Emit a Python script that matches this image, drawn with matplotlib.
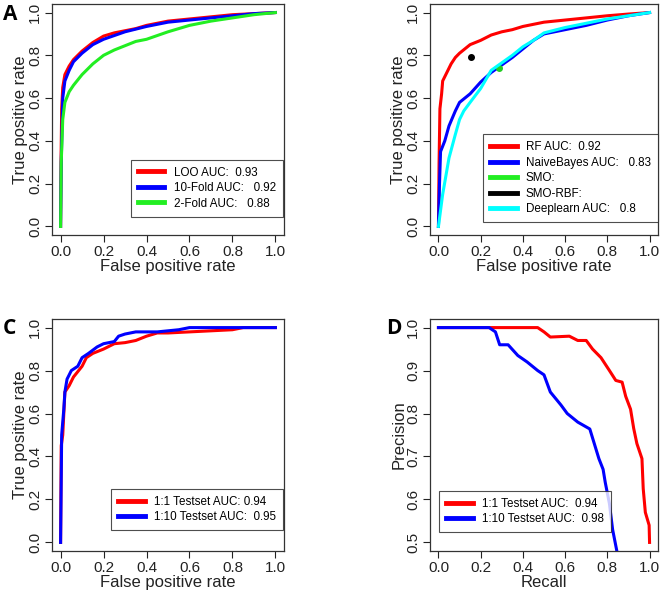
import matplotlib
matplotlib.use("Agg")
import matplotlib.pyplot as plt
import numpy as np

plt.rcParams['font.family'] = ['Liberation Sans', 'DejaVu Sans']

# panel A: cross validation ROC
a_loo_fpr = [0, 0.002, 0.005, 0.01, 0.02, 0.04, 0.06, 0.1, 0.15, 0.2, 0.25, 0.3, 0.35, 0.4, 0.5, 0.6, 0.7, 0.8, 0.9, 1.0]
a_loo_tpr = [0, 0.3, 0.55, 0.65, 0.71, 0.75, 0.78, 0.82, 0.86, 0.89, 0.905, 0.915, 0.925, 0.94, 0.96, 0.97, 0.98, 0.99, 0.995, 1.0]
a_10f_fpr = [0, 0.003, 0.01, 0.02, 0.04, 0.06, 0.1, 0.15, 0.2, 0.3, 0.4, 0.5, 0.6, 0.7, 0.8, 0.9, 1.0]
a_10f_tpr = [0, 0.3, 0.6, 0.68, 0.73, 0.77, 0.81, 0.85, 0.875, 0.91, 0.935, 0.955, 0.965, 0.975, 0.985, 0.995, 1.0]
a_2f_fpr = [0, 0.003, 0.01, 0.02, 0.04, 0.06, 0.1, 0.15, 0.2, 0.25, 0.3, 0.35, 0.4, 0.5, 0.6, 0.7, 0.8, 0.9, 1.0]
a_2f_tpr = [0, 0.3, 0.5, 0.58, 0.63, 0.66, 0.71, 0.76, 0.80, 0.825, 0.845, 0.865, 0.875, 0.91, 0.94, 0.96, 0.975, 0.99, 1.0]
a_labels = ["LOO AUC:  0.93", "10-Fold AUC:   0.92", "2-Fold AUC:   0.88"]

# panel B: classifiers
b_rf_fpr = [0, 0.003, 0.007, 0.015, 0.02, 0.04, 0.06, 0.08, 0.1, 0.15, 0.2, 0.25, 0.3, 0.35, 0.4, 0.5, 0.6, 0.7, 0.8, 0.9, 1.0]
b_rf_tpr = [0, 0.3, 0.55, 0.62, 0.68, 0.72, 0.76, 0.79, 0.81, 0.85, 0.87, 0.895, 0.91, 0.92, 0.935, 0.955, 0.965, 0.975, 0.985, 0.993, 1.0]
b_nb_fpr = [0, 0.005, 0.01, 0.03, 0.05, 0.08, 0.1, 0.15, 0.2, 0.25, 0.3, 0.35, 0.4, 0.45, 0.5, 0.6, 0.7, 0.8, 0.9, 1.0]
b_nb_tpr = [0, 0.2, 0.35, 0.4, 0.47, 0.54, 0.58, 0.62, 0.675, 0.72, 0.755, 0.79, 0.83, 0.87, 0.9, 0.92, 0.94, 0.965, 0.985, 1.0]
b_dl_fpr = [0, 0.02, 0.05, 0.08, 0.1, 0.12, 0.15, 0.2, 0.25, 0.3, 0.35, 0.4, 0.45, 0.5, 0.6, 0.7, 0.8, 0.9, 1.0]
b_dl_tpr = [0, 0.15, 0.32, 0.43, 0.5, 0.54, 0.58, 0.645, 0.73, 0.765, 0.8, 0.84, 0.87, 0.905, 0.93, 0.95, 0.97, 0.985, 1.0]
b_smo = (0.288, 0.74)
b_smo_rbf = (0.156, 0.794)
b_labels = ["RF AUC:  0.92", "NaiveBayes AUC:   0.83", "SMO:", "SMO-RBF:", "Deeplearn AUC:   0.8"]

# panel C: test sets ROC
c_11_fpr = [0, 0.003, 0.01, 0.015, 0.02, 0.04, 0.06, 0.1, 0.12, 0.15, 0.2, 0.25, 0.3, 0.35, 0.4, 0.45, 0.5, 0.6, 0.7, 0.8, 0.85, 1.0]
c_11_tpr = [0, 0.45, 0.5, 0.6, 0.7, 0.73, 0.77, 0.82, 0.86, 0.88, 0.9, 0.925, 0.93, 0.94, 0.96, 0.975, 0.975, 0.98, 0.985, 0.99, 1.0, 1.0]
c_110_fpr = [0, 0.005, 0.015, 0.02, 0.03, 0.05, 0.08, 0.1, 0.13, 0.17, 0.2, 0.25, 0.27, 0.3, 0.35, 0.45, 0.5, 0.55, 0.6, 1.0]
c_110_tpr = [0, 0.5, 0.62, 0.7, 0.76, 0.8, 0.82, 0.86, 0.88, 0.91, 0.925, 0.935, 0.96, 0.97, 0.98, 0.98, 0.985, 0.99, 1.0, 1.0]
c_labels = ["1:1 Testset AUC: 0.94", "1:10 Testset AUC:  0.95"]

# panel D: precision recall
d_11_rec = [0, 0.47, 0.5, 0.53, 0.62, 0.66, 0.70, 0.73, 0.77, 0.81, 0.84, 0.87, 0.887, 0.91, 0.925, 0.94, 0.964, 0.97, 0.98, 0.998, 1.0]
d_11_pre = [1.0, 1.0, 0.99, 0.978, 0.98, 0.97, 0.97, 0.95, 0.93, 0.90, 0.877, 0.873, 0.84, 0.81, 0.765, 0.73, 0.695, 0.625, 0.57, 0.54, 0.5]
d_110_rec = [0, 0.24, 0.27, 0.29, 0.33, 0.376, 0.42, 0.47, 0.5, 0.53, 0.58, 0.61, 0.66, 0.717, 0.76, 0.78, 0.79, 0.81, 0.825, 0.845]
d_110_pre = [1.0, 1.0, 0.99, 0.96, 0.96, 0.935, 0.92, 0.90, 0.89, 0.85, 0.82, 0.80, 0.78, 0.764, 0.695, 0.67, 0.64, 0.59, 0.53, 0.48]
d_labels = ["1:1 Testset AUC:  0.94", "1:10 Testset AUC:  0.98"]

ticks01 = [0.0, 0.2, 0.4, 0.6, 0.8, 1.0]


def r_axes(ax, xlabel, ylabel, yticks, ylim):
  ax.set_xlim(-0.04, 1.04)
  ax.set_ylim(*ylim)
  ax.set_xticks(ticks01)
  ax.set_xticklabels(["%.1f" % t for t in ticks01])
  ax.set_yticks(yticks)
  ax.set_yticklabels(["%.1f" % t for t in yticks], rotation=90, va="center")
  ax.tick_params(direction="out", length=5, width=0.8, labelsize=11, colors="#222222", pad=2)
  for s in ax.spines.values():
    s.set_linewidth(0.9)
    s.set_color("#333333")
  ax.set_xlabel(xlabel, fontsize=12, labelpad=0, color="#222222")
  ax.set_ylabel(ylabel, fontsize=12, labelpad=0, color="#222222")


def r_legend(ax, loc, anchor):
  leg = ax.legend(loc=loc, bbox_to_anchor=anchor, fontsize=8.4, frameon=True, fancybox=False,
                  handlelength=2.3, handletextpad=0.8, borderpad=0.6, labelspacing=0.3,
                  edgecolor="#222222", borderaxespad=0)
  leg.get_frame().set_linewidth(0.8)
  for h in leg.get_lines():
    h.set_linewidth(3.5)
  return leg


fig = plt.figure(figsize=(6.66, 5.92), dpi=100)
axA = fig.add_axes([52/666, 1-235/592, 232/666, 231/592])
axB = fig.add_axes([430/666, 1-235/592, 228/666, 231/592])
axC = fig.add_axes([52/666, 1-551/592, 232/666, 232/592])
axD = fig.add_axes([430/666, 1-551/592, 228/666, 232/592])

lw = 2.2
axA.plot(a_loo_fpr, a_loo_tpr, color="red", lw=lw, label=a_labels[0])
axA.plot(a_10f_fpr, a_10f_tpr, color="blue", lw=lw, label=a_labels[1])
axA.plot(a_2f_fpr, a_2f_tpr, color="#22ee22", lw=lw, label=a_labels[2])
r_axes(axA, "False positive rate", "True positive rate", ticks01, (-0.04, 1.04))
r_legend(axA, "lower right", (0.995, 0.08))

axB.plot(b_rf_fpr, b_rf_tpr, color="red", lw=lw, label=b_labels[0])
axB.plot(b_nb_fpr, b_nb_tpr, color="blue", lw=lw, label=b_labels[1])
axB.plot([b_smo[0]], [b_smo[1]], "o", color="#22cc22", ms=4, label=b_labels[2])
axB.plot([b_smo_rbf[0]], [b_smo_rbf[1]], "o", color="black", ms=4, label=b_labels[3])
axB.plot(b_dl_fpr, b_dl_tpr, color="cyan", lw=lw, label=b_labels[4])
r_axes(axB, "False positive rate", "True positive rate", ticks01, (-0.04, 1.04))
legB = r_legend(axB, "lower right", (1.0, 0.055))
for h, c in zip(legB.legend_handles, ["red", "blue", "#22ee22", "black", "cyan"]):
  h.set_linestyle("-")
  h.set_marker("")
  h.set_color(c)
  h.set_linewidth(3.5)

axC.plot(c_11_fpr, c_11_tpr, color="red", lw=lw, label=c_labels[0])
axC.plot(c_110_fpr, c_110_tpr, color="blue", lw=lw, label=c_labels[1])
r_axes(axC, "False positive rate", "True positive rate", ticks01, (-0.04, 1.04))
r_legend(axC, "lower right", (0.995, 0.09))

axD.plot(d_11_rec, d_11_pre, color="red", lw=lw, label=d_labels[0])
axD.plot(d_110_rec, d_110_pre, color="blue", lw=lw, label=d_labels[1])
r_axes(axD, "Recall", "Precision", [0.5, 0.6, 0.7, 0.8, 0.9, 1.0], (0.48, 1.02))
r_legend(axD, "lower left", (0.04, 0.08))

for lab, x, y in [("A", 3, 14), ("C", 3, 328), ("D", 386, 329)]:
  fig.text(x/666, 1-y/592, lab, fontsize=15, fontweight="bold", family=["Open Sans", "DejaVu Sans"],
           ha="left", va="center")

fig.savefig("out.png", dpi=100)
